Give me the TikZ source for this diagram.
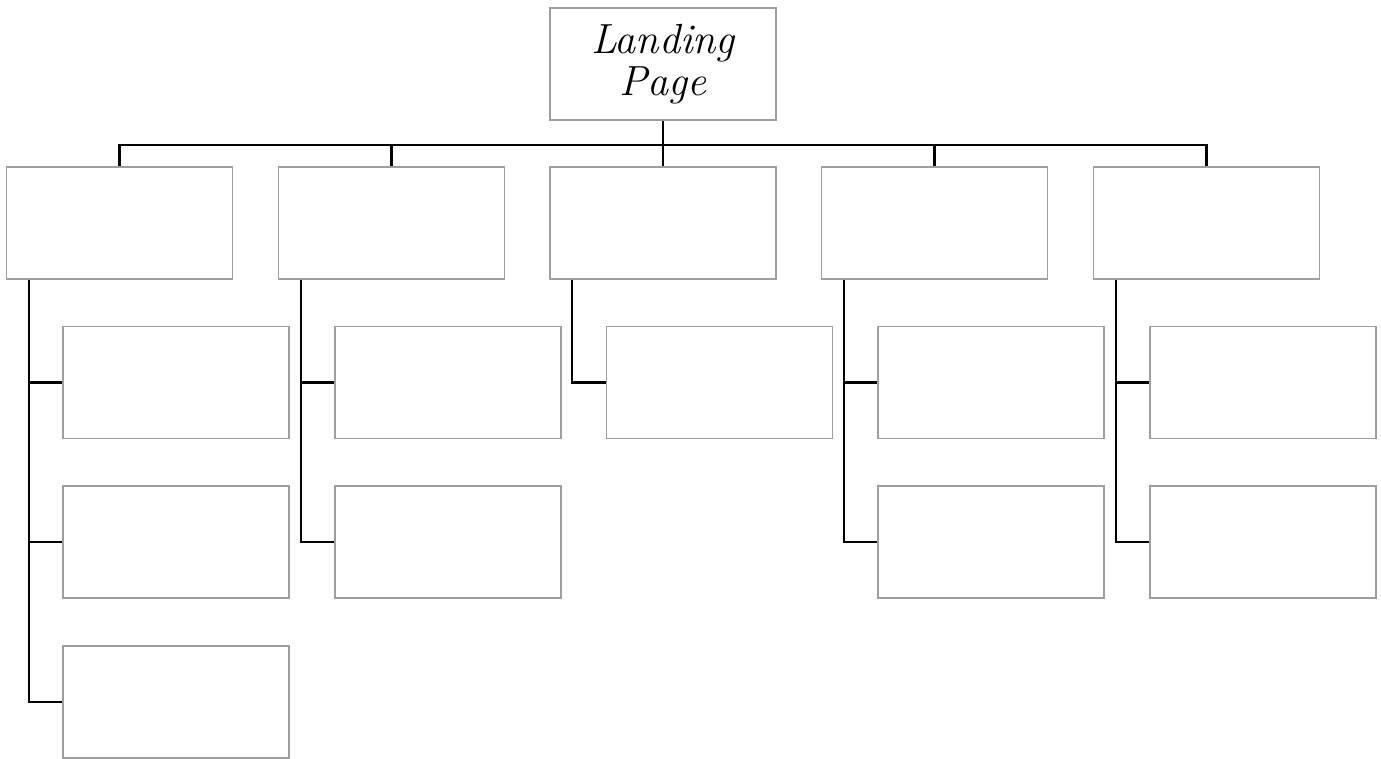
\documentclass[tikz,border=0pt]{standalone}
\usetikzlibrary{positioning}

\tikzset{
  page/.style={draw=gray!75, line width=0.85pt, fill=white, inner sep=0pt,
    minimum width=4.52cm, minimum height=2.24cm},
  link/.style={line width=1.35pt, black}
}

\begin{document}
\begin{tikzpicture}[x=0.02cm, y=-0.02cm]
		\useasboundingbox (0,0) rectangle (1381,758);
		\node[page, align=center, font=\fontsize{24}{24}\selectfont\itshape] (land) at (663,64) {Landing\\Page};
		% first level
		\node[page] (s1) at (119.5,223) {};
		\node[page] (s2) at (391.5,223) {};
		\node[page] (s3) at (663,223) {};
		\node[page] (s4) at (934.5,223) {};
		\node[page] (s5) at (1206.5,223) {};
		% second level
		\node[page] (s1a) at (176,382.5) {};
		\node[page] (s1b) at (176,542) {};
		\node[page] (s1c) at (176,702) {};
		\node[page] (s2a) at (448,382.5) {};
		\node[page] (s2b) at (448,542) {};
		\node[page] (s3a) at (719.5,382.5) {};
		\node[page] (s4a) at (991,382.5) {};
		\node[page] (s4b) at (991,542) {};
		\node[page] (s5a) at (1263,382.5) {};
		\node[page] (s5b) at (1263,542) {};
		% connectors
		\coordinate (bus) at (663,145);
		\draw[link] (land.south) -- (bus);
		\draw[link] (s1.north) -- (s1.north |- bus) -- (s5.north |- bus) -- (s5.north);
		\foreach \s in {s2,s3,s4}
			\draw[link] (\s.north) -- (\s.north |- bus);
		\foreach \s/\k in {s1/s1a,s1/s1b,s1/s1c,s2/s2a,s2/s2b,s3/s3a,s4/s4a,s4/s4b,s5/s5a,s5/s5b}
			\draw[link] ([xshift=0.46cm]\s.south west) |- (\k.west);
	\end{tikzpicture}
\end{document}
